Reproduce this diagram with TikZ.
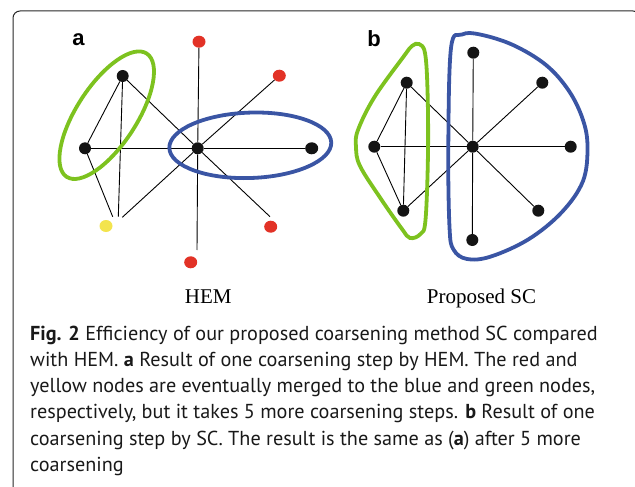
\documentclass[tikz,border=0pt]{standalone}
\usepackage{fontspec}
\setmainfont{Liberation Serif}
\newfontfamily\capfont{PT Sans}
\newfontfamily\labfont{Liberation Sans}
\usetikzlibrary{shapes.geometric}
\definecolor{gr}{RGB}{125,194,31}
\definecolor{bl}{RGB}{58,85,164}
\definecolor{rd}{RGB}{226,50,38}
\definecolor{yl}{RGB}{243,228,78}
\definecolor{frm}{RGB}{40,40,40}
\begin{document}
\begin{tikzpicture}[x=1pt,y=1pt,
 dot/.style={circle,fill=black!92,inner sep=0pt,minimum size=12pt},
 rdot/.style={ellipse,fill=rd,inner sep=0pt,minimum width=13pt,minimum height=12pt},
 ydot/.style={ellipse,fill=yl,inner sep=0pt,minimum width=13pt,minimum height=12pt},
 lnk/.style={line width=0.9pt,black},
 grp/.style={line width=3.8pt},
 plab/.style={anchor=base,inner sep=0pt,font=\labfont\bfseries\fontsize{22}{24}\selectfont},
 sublab/.style={anchor=base,inner sep=0pt,font=\fontsize{21}{24}\selectfont},
 captxt/.style={anchor=base west,inner sep=0pt,font=\capfont\fontsize{20.2}{24}\selectfont,text=black!90},
 ]
\useasboundingbox (0,0) rectangle (635,-487);
\clip (0,0) rectangle (635,-487);
\draw[frm,line width=1pt,rounded corners=7pt] (13,-500) -- (13,-11) -- (640,-11) -- (640,-500);

% ---------- panel a ----------
\node[plab] (la) at (78.5,-45.7) {a};
\node[dot] (atl) at (122.7,-76) {};
\node[dot] (al) at (85,-148.3) {};
\node[dot] (ac) at (197.7,-148.3) {};
\node[dot,ellipse,minimum width=13pt] (ar) at (311.7,-148.3) {};
\node[rdot] (art) at (199,-41.7) {};
\node[rdot] (arur) at (279.3,-75.7) {};
\node[rdot] (arlr) at (270.7,-226.7) {};
\node[rdot] (arb) at (190.7,-262.3) {};
\node[ydot] (ay) at (106,-226) {};
\coordinate (elr) at (270,-216.7);
\coordinate (eb) at (197,-250);
\coordinate (ey1) at (112.7,-216.7);
\coordinate (ey2) at (118.3,-216.7);
\coordinate (ey3) at (122.3,-217.3);
\draw[lnk] (atl) -- (al);
\draw[lnk] (atl) -- (ac);
\draw[lnk] (atl) -- (ey2);
\draw[lnk] (al) -- (ac);
\draw[lnk] (ac) -- (ar);
\draw[lnk] (al) -- (ey1);
\draw[lnk] (ac) -- (ey3);
\draw[lnk] (ac) -- (art);
\draw[lnk] (ac) -- (arur);
\draw[lnk] (ac) -- (elr);
\draw[lnk] (ac) -- (eb);
\coordinate (gc) at (106.7,-115.2);
\draw[grp,gr,rotate around={57:(gc)}] (gc) ellipse [x radius=73.5pt, y radius=30pt];
\coordinate (bc) at (250.3,-145.3);
\draw[grp,bl,rotate around={2:(bc)}] (bc) ellipse [x radius=81pt, y radius=32.7pt];
\node[sublab] (hem) at (208.3,-303.3) {HEM};

% ---------- panel b ----------
\node[plab] (lb) at (374.2,-46.7) {b};
\node[dot] (btl) at (406.7,-82.7) {};
\node[dot] (bl) at (374.3,-146.7) {};
\node[dot] (bbl) at (403.3,-210.7) {};
\node[dot] (bc2) at (472.7,-146.7) {};
\node[dot] (bt) at (473.3,-52.7) {};
\node[dot] (bur) at (542.3,-82.7) {};
\node[dot] (br) at (570.7,-146.7) {};
\node[dot] (blr) at (538.3,-210.7) {};
\node[dot] (bb) at (472.3,-240) {};
\draw[lnk] (btl) -- (bl);
\draw[lnk] (btl) -- (bbl);
\draw[lnk] (btl) -- (bc2);
\draw[lnk] (bl) -- (bbl);
\draw[lnk] (bl) -- (bc2);
\draw[lnk] (bbl) -- (bc2);
\draw[lnk] (bc2) -- (bt);
\draw[lnk] (bc2) -- (bur);
\draw[lnk] (bc2) -- (br);
\draw[lnk] (bc2) -- (blr);
\draw[lnk] (bc2) -- (bb);
\draw[grp,gr] plot[smooth cycle,tension=0.6] coordinates {
 (404,-56) (374.5,-97) (358,-130) (356,-147) (360,-166) (381,-199) (402,-229)
 (410,-238) (420.5,-234) (425.5,-220) (428,-153) (427.5,-90) (425,-53) (419,-44) (412,-46)};
\draw[grp,bl] plot[smooth cycle,tension=0.6] coordinates {
 (451,-48) (462,-34.5) (480,-34.5) (513,-45) (546,-65) (569,-91) (583,-120) (587.5,-147)
 (583,-181) (562,-212) (529,-239) (491,-256.5) (467,-259) (453.5,-249.5) (449.5,-227) (448.3,-147)};
\node[sublab] (psc) at (481.5,-303.3) {Proposed SC};

% ---------- caption ----------
\node[captxt] (c1) at (30,-340) {\textbf{Fig. 2} Efficiency of our proposed coarsening method SC compared};
\node[captxt] (c2) at (30,-366.3) {with HEM. \textbf{a} Result of one coarsening step by HEM. The red and};
\node[captxt] (c3) at (30,-392.6) {yellow nodes are eventually merged to the blue and green nodes,};
\node[captxt] (c4) at (30,-418.9) {respectively, but it takes 5 more coarsening steps. \textbf{b} Result of one};
\node[captxt] (c5) at (30,-445.2) {coarsening step by SC. The result is the same as (\textbf{a}) after 5 more};
\node[captxt] (c6) at (30,-471.5) {coarsening};
\end{tikzpicture}
\end{document}
